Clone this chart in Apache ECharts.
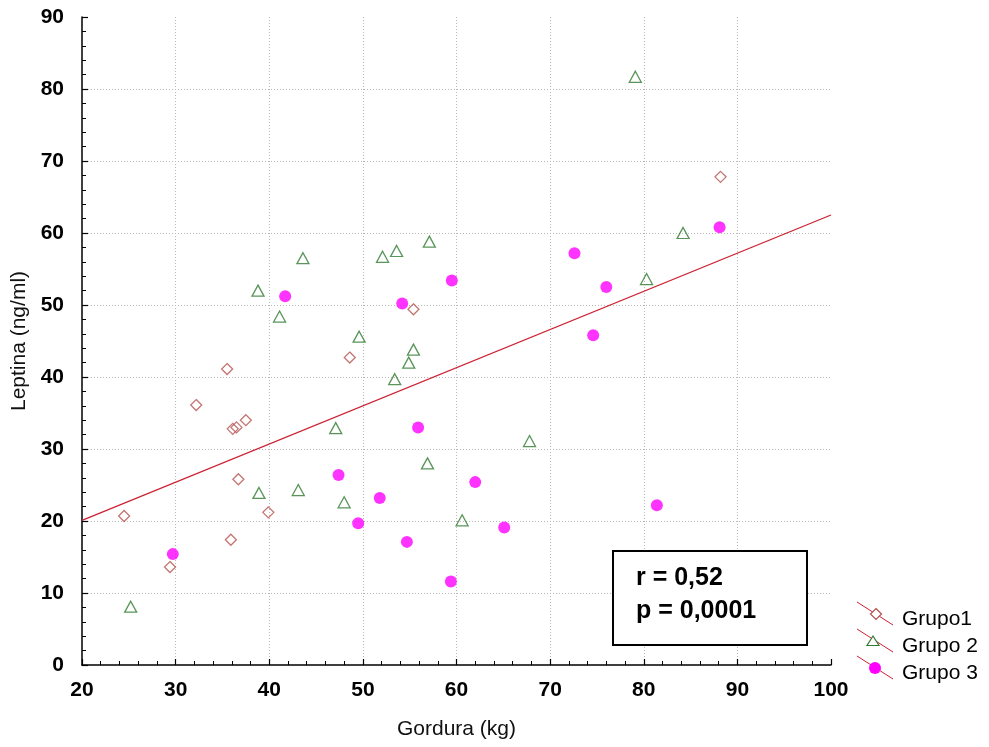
<!DOCTYPE html>
<html>
<head>
<meta charset="utf-8">
<script src="https://cdn.jsdelivr.net/npm/echarts@6/dist/echarts.min.js"></script>
<style>
  html, body { margin: 0; padding: 0; background: #fff; }
  #chart { width: 989px; height: 747px; }
</style>
</head>
<body>
<div id="chart"></div>
<script>
// Gordura (kg) vs Leptina (ng/ml), three groups plus the overall fitted line
const grupo1 = [
  [24.5, 20.7], [29.4, 13.6], [32.2, 36.1], [35.5, 41.1], [35.9, 17.4],
  [36.1, 32.8], [36.5, 33.0], [37.5, 34.0], [36.7, 25.8], [39.9, 21.2],
  [48.6, 42.7], [55.4, 49.4], [88.2, 67.8]
];
const grupo2 = [
  [25.2, 8.1], [38.8, 52.0], [38.9, 23.9], [41.1, 48.4], [43.1, 24.3],
  [43.6, 56.5], [47.1, 32.9], [48.0, 22.6], [49.6, 45.6], [52.1, 56.7],
  [53.6, 57.5], [53.4, 39.7], [54.9, 42.0], [55.4, 43.8], [56.9, 28.0],
  [57.1, 58.8], [60.6, 20.1], [67.8, 31.1], [79.1, 81.7], [80.3, 53.6],
  [84.2, 60.0]
];
const grupo3 = [
  [29.7, 15.4], [41.7, 51.2], [47.4, 26.4], [49.5, 19.7], [51.8, 23.2],
  [54.2, 50.2], [54.7, 17.1], [55.9, 33.0], [59.4, 11.6], [59.5, 53.4],
  [62.0, 25.4], [65.1, 19.1], [72.6, 57.2], [74.6, 45.8], [76.0, 52.5],
  [81.4, 22.2], [88.1, 60.8]
];
// fitted line endpoints (x, y)
const fitX = [20, 100];
const fitY = [20.1, 62.5];
const statLines = ['r = 0,52', 'p = 0,0001'];
const legendNames = ['Grupo1', 'Grupo 2', 'Grupo 3'];

const FONT = "'Liberation Sans', Arial, sans-serif";
const C1 = '#b5524f';
const C2 = '#2f7a2f';
const C3 = '#ff00ff';
const CLINE = '#cc2233';

const chart = echarts.init(document.getElementById('chart'));

const axisCommon = {
  axisLine: { show: true, onZero: false, lineStyle: { color: '#000', width: 1.5 } },
  axisTick: { show: true, inside: true, length: 6, lineStyle: { color: '#000', width: 1.2 } },
  minorTick: { show: true, splitNumber: 5, length: 4, lineStyle: { color: '#000', width: 1 } },
  splitLine: { show: true, showMinLine: false, showMaxLine: false,
    lineStyle: { color: '#b8b8b8', type: [1, 2], width: 1 } },
  axisLabel: { color: '#000', fontFamily: FONT, fontSize: 21, fontWeight: 'bold' },
  nameTextStyle: { color: '#111', fontFamily: FONT, fontSize: 21 },
  nameLocation: 'middle'
};

const fitData = fitX.map((x, i) => [x, fitY[i]]);

const legendGraphics = [];
const legendRows = [
  { y: 614, name: legendNames[0], kind: 'diamond' },
  { y: 641, name: legendNames[1], kind: 'triangle' },
  { y: 668, name: legendNames[2], kind: 'circle' }
];
legendRows.forEach(r => {
  legendGraphics.push({
    type: 'line',
    shape: { x1: 857, y1: r.y - 12, x2: 893, y2: r.y + 11 },
    style: { stroke: CLINE, lineWidth: 1 }
  });
  const cx = 876, cy = r.y;
  if (r.kind === 'diamond') {
    legendGraphics.push({
      type: 'polygon',
      shape: { points: [[cx, cy - 5.5], [cx + 5.5, cy], [cx, cy + 5.5], [cx - 5.5, cy]] },
      style: { fill: '#fff', stroke: C1, lineWidth: 1.2 }
    });
  } else if (r.kind === 'triangle') {
    legendGraphics.push({
      type: 'polygon',
      shape: { points: [[cx - 3, cy - 5], [cx + 3, cy + 4.5], [cx - 9, cy + 4.5]] },
      style: { fill: '#fff', stroke: C2, lineWidth: 1.2 }
    });
  } else {
    legendGraphics.push({
      type: 'circle',
      shape: { cx: cx - 1, cy: cy, r: 6 },
      style: { fill: C3 }
    });
  }
  legendGraphics.push({
    type: 'text',
    x: 902, y: r.y + 5,
    style: { text: r.name, font: '21px ' + FONT, fill: '#000', verticalAlign: 'middle', align: 'left' }
  });
});

const option = {
  backgroundColor: '#fff',
  animation: false,
  grid: { left: 82, right: 158, top: 17, bottom: 82, containLabel: false },
  xAxis: Object.assign({}, axisCommon, {
    type: 'value', min: 20, max: 100, interval: 10,
    name: 'Gordura (kg)', nameGap: 54,
    axisLabel: Object.assign({}, axisCommon.axisLabel, { margin: 15 })
  }),
  yAxis: Object.assign({}, axisCommon, {
    type: 'value', min: 0, max: 90, interval: 10,
    name: 'Leptina (ng/ml)', nameGap: 49,
    axisLabel: Object.assign({}, axisCommon.axisLabel, { margin: 18 })
  }),
  series: [
    {
      name: 'Ajuste', type: 'line', data: fitData, symbol: 'none', z: 1,
      lineStyle: { color: CLINE, width: 1.3 }
    },
    {
      name: legendNames[0], type: 'scatter', data: grupo1, symbol: 'diamond', symbolSize: [11, 11], z: 3,
      itemStyle: { color: 'rgba(255,255,255,0)', borderColor: C1, borderWidth: 1.3 }
    },
    {
      name: legendNames[1], type: 'scatter', data: grupo2, symbol: 'triangle', symbolSize: [12, 11], z: 3,
      itemStyle: { color: 'rgba(255,255,255,0)', borderColor: C2, borderWidth: 1.3 }
    },
    {
      name: legendNames[2], type: 'scatter', data: grupo3, symbol: 'circle', symbolSize: 12, z: 3,
      itemStyle: { color: C3 }
    }
  ],
  graphic: [
    {
      type: 'rect', z: 10,
      shape: { x: 613, y: 551, width: 194, height: 94 },
      style: { fill: '#fff', stroke: '#000', lineWidth: 2 }
    },
    {
      type: 'text', z: 11, x: 636, y: 578,
      style: { text: statLines[0], font: 'bold 25px ' + FONT, fill: '#000', verticalAlign: 'middle' }
    },
    {
      type: 'text', z: 11, x: 636, y: 611,
      style: { text: statLines[1], font: 'bold 25px ' + FONT, fill: '#000', verticalAlign: 'middle' }
    }
  ].concat(legendGraphics)
};

chart.setOption(option);
</script>
</body>
</html>
